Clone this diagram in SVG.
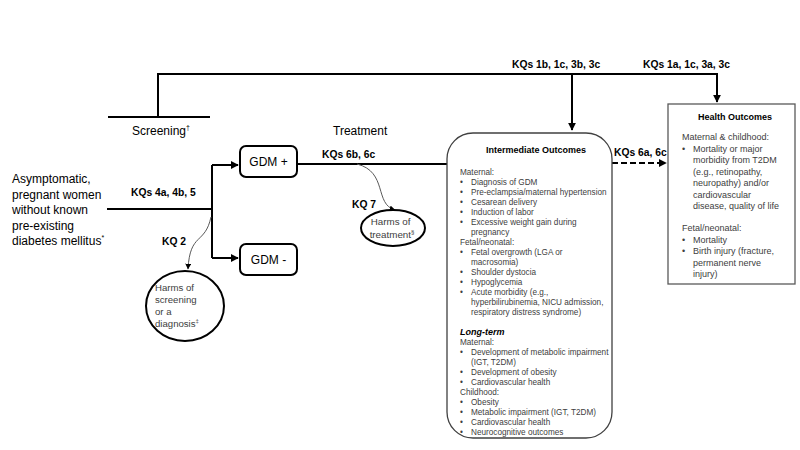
<svg xmlns="http://www.w3.org/2000/svg" width="800" height="450" viewBox="0 0 800 450">
<defs>
<style>
.t{font-family:"Liberation Sans",Arial,sans-serif;fill:#000}
.kq{font-family:"Liberation Sans",Arial,sans-serif;font-weight:bold;font-size:10.3px;fill:#000}
.g{font-family:"Liberation Sans",Arial,sans-serif;fill:#404040}
.ln{fill:none;stroke:#000;stroke-width:2}
.thin{fill:none;stroke:#595959;stroke-width:1}
.box{fill:#fff;stroke:#000;stroke-width:2}
.sm{font-size:8.2px}
.hb{font-size:9px}
</style>
<marker id="ah" viewBox="0 0 10 10" refX="9" refY="5" markerWidth="4" markerHeight="4" orient="auto" markerUnits="strokeWidth"><path d="M0,0L10,5L0,10z" fill="#000"/></marker>
<marker id="ahs" viewBox="0 0 10 10" refX="9" refY="5" markerWidth="6" markerHeight="6" orient="auto" markerUnits="strokeWidth"><path d="M0,0L10,5L0,10z" fill="#000"/></marker>
</defs>
<rect width="800" height="450" fill="#fff"/>

<g id="connectors">
<path class="ln" d="M158,117V74H717V102" marker-end="url(#ah)"/>
<path class="ln" d="M108,117H210"/>
<path class="ln" d="M572,74V130" marker-end="url(#ah)"/>
<path class="ln" d="M107,209H212"/>
<path class="ln" d="M212,165V258"/>
<path class="ln" d="M212,165H238" marker-end="url(#ah)"/>
<path class="ln" d="M212,258H238" marker-end="url(#ah)"/>
<path class="ln" d="M297,164H448"/>
<path class="ln" d="M612,163H666" stroke-dasharray="6,3" marker-end="url(#ah)"/>
<path class="thin" d="M211,217C205,245 190,232 188,269" marker-end="url(#ahs)"/>
<path class="thin" d="M357,164C388,172 374,204 395,210" marker-end="url(#ahs)"/>
</g>

<g id="labels">
<text class="kq" x="512" y="68">KQs 1b, 1c, 3b, 3c</text>
<text class="kq" x="643" y="68">KQs 1a, 1c, 3a, 3c</text>
<text class="kq" x="614" y="156" font-size="10">KQs 6a, 6c</text>
<text class="kq" x="322" y="158">KQs 6b, 6c</text>
<text class="kq" x="131" y="196">KQs 4a, 4b, 5</text>
<text class="kq" x="162" y="245">KQ 2</text>
<text class="kq" x="352" y="208">KQ 7</text>
<text class="t" x="132" y="135" font-size="12">Screening<tspan font-size="7" dy="-5">†</tspan></text>
<text class="t" x="333" y="135" font-size="12">Treatment</text>
</g>

<g id="population">
<text class="t" font-size="12" x="12">
<tspan x="12" y="183">Asymptomatic,</tspan>
<tspan x="12" y="198.5">pregnant women</tspan>
<tspan x="12" y="214">without known</tspan>
<tspan x="12" y="229.5">pre-existing</tspan>
<tspan x="12" y="245">diabetes mellitus<tspan font-size="7" dy="-5">*</tspan></tspan>
</text>
</g>

<g id="gdm-pos">
<rect class="box" x="240" y="146" width="57" height="31" rx="6"/>
<text class="t" font-size="12" x="268.5" y="166" text-anchor="middle">GDM +</text>
</g>

<g id="gdm-neg">
<rect class="box" x="240" y="244" width="57" height="31" rx="6"/>
<text class="t" font-size="12" x="268.5" y="264" text-anchor="middle">GDM -</text>
</g>

<g id="harms-screening">
<ellipse cx="185" cy="306" rx="39" ry="35" fill="#fff" stroke="#000" stroke-width="2"/>
<text class="g" font-size="9.6">
<tspan x="155" y="291">Harms of</tspan>
<tspan x="155" y="303">screening</tspan>
<tspan x="155" y="315">or a</tspan>
<tspan x="155" y="327">diagnosis<tspan font-size="6" dy="-4">‡</tspan></tspan>
</text>
</g>

<g id="harms-treatment">
<ellipse cx="393" cy="228" rx="32" ry="18" fill="#fff" stroke="#000" stroke-width="2"/>
<text class="g" font-size="9.8" text-anchor="middle">
<tspan x="392" y="225">Harms of</tspan>
<tspan x="392" y="238">treatment<tspan font-size="6" dy="-4">§</tspan></tspan>
</text>
</g>

<g id="intermediate">
<rect x="447" y="133" width="165" height="305" rx="26" fill="#fff" stroke="#404040" stroke-width="1.3"/>
<text class="t hb" font-weight="bold" x="536" y="153" text-anchor="middle">Intermediate Outcomes</text>
<text class="g sm">
<tspan x="460" y="175">Maternal:</tspan>
<tspan x="460" y="185">•</tspan><tspan x="471">Diagnosis of GDM</tspan>
<tspan x="460" y="195">•</tspan><tspan x="471">Pre-eclampsia/maternal  hypertension</tspan>
<tspan x="460" y="205">•</tspan><tspan x="471">Cesarean  delivery</tspan>
<tspan x="460" y="215">•</tspan><tspan x="471">Induction of labor</tspan>
<tspan x="460" y="225">•</tspan><tspan x="471">Excessive weight gain during</tspan>
<tspan x="471" y="235">pregnancy</tspan>
<tspan x="460" y="245">Fetal/neonatal:</tspan>
<tspan x="460" y="255">•</tspan><tspan x="471">Fetal overgrowth  (LGA or</tspan>
<tspan x="471" y="265">macrosomia)</tspan>
<tspan x="460" y="275">•</tspan><tspan x="471">Shoulder dystocia</tspan>
<tspan x="460" y="285">•</tspan><tspan x="471">Hypoglycemia</tspan>
<tspan x="460" y="295">•</tspan><tspan x="471">Acute morbidity (e.g.,</tspan>
<tspan x="471" y="305">hyperbilirubinemia, NICU admission,</tspan>
<tspan x="471" y="315">respiratory distress syndrome)</tspan>
<tspan x="460" y="335" font-weight="bold" font-style="italic" fill="#000" font-size="9">Long-term</tspan>
<tspan x="460" y="345">Maternal:</tspan>
<tspan x="460" y="355">•</tspan><tspan x="471">Development  of metabolic impairment</tspan>
<tspan x="471" y="365">(IGT, T2DM)</tspan>
<tspan x="460" y="375">•</tspan><tspan x="471">Development  of obesity</tspan>
<tspan x="460" y="385">•</tspan><tspan x="471">Cardiovascular  health</tspan>
<tspan x="460" y="395">Childhood:</tspan>
<tspan x="460" y="405">•</tspan><tspan x="471">Obesity</tspan>
<tspan x="460" y="415">•</tspan><tspan x="471">Metabolic impairment (IGT, T2DM)</tspan>
<tspan x="460" y="425">•</tspan><tspan x="471">Cardiovascular  health</tspan>
<tspan x="460" y="435">•</tspan><tspan x="471">Neurocognitive  outcomes</tspan>
</text>
</g>

<g id="health">
<rect x="668" y="104" width="127" height="180" fill="#fff" stroke="#595959" stroke-width="1.3"/>
<text class="t hb" font-weight="bold" x="735" y="120" text-anchor="middle">Health Outcomes</text>
<text class="g" font-size="9">
<tspan x="682" y="140">Maternal  &amp; childhood:</tspan>
<tspan x="682" y="151.5">•</tspan><tspan x="693">Mortality or major</tspan>
<tspan x="693" y="163">morbidity from T2DM</tspan>
<tspan x="693" y="174.5">(e.g., retinopathy,</tspan>
<tspan x="693" y="186">neuropathy) and/or</tspan>
<tspan x="693" y="197.5">cardiovascular</tspan>
<tspan x="693" y="209">disease, quality of life</tspan>
<tspan x="682" y="231">Fetal/neonatal:</tspan>
<tspan x="682" y="242.5">•</tspan><tspan x="693">Mortality</tspan>
<tspan x="682" y="254">•</tspan><tspan x="693">Birth injury (fracture,</tspan>
<tspan x="693" y="265.5">permanent nerve</tspan>
<tspan x="693" y="277">injury)</tspan>
</text>
</g>
</svg>
